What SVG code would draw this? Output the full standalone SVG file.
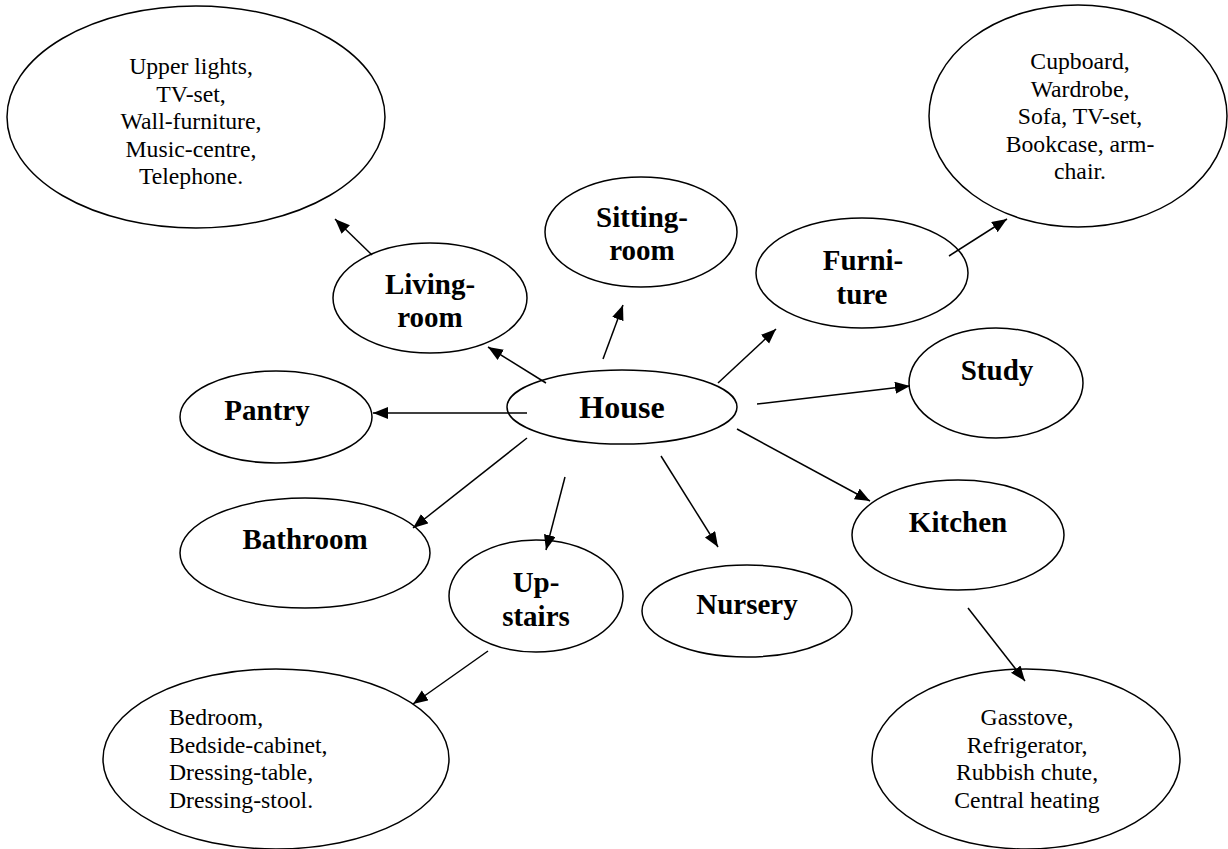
<svg xmlns="http://www.w3.org/2000/svg" width="1228" height="849" viewBox="0 0 1228 849">
<style>
.n{fill:#fff;stroke:#000;stroke-width:1.5}
.b{font-family:"Liberation Serif","Times New Roman",serif;font-weight:bold;font-size:29px;text-anchor:middle;fill:#000}
.h{font-size:32px}
.t{font-family:"Liberation Serif","Times New Roman",serif;font-size:23.7px;text-anchor:middle;fill:#000}
.l{text-anchor:start}
.c line{stroke:#000;stroke-width:1.5;marker-end:url(#a)}
</style>
<defs>
<marker id="a" markerUnits="userSpaceOnUse" markerWidth="16" markerHeight="13" refX="15" refY="6" orient="auto">
<path d="M0,0 L15,6 L0,12 z" fill="#000"/>
</marker>
</defs>
<rect width="1228" height="849" fill="#fff"/>
<g id="living-items">
<ellipse class="n" cx="196" cy="117" rx="189" ry="111"/>
<text class="t" x="191" y="74">Upper lights,</text>
<text class="t" x="191" y="101.5">TV-set,</text>
<text class="t" x="191" y="129">Wall-furniture,</text>
<text class="t" x="191" y="156.5">Music-centre,</text>
<text class="t" x="191" y="184">Telephone.</text>
</g>
<g id="furniture-items">
<ellipse class="n" cx="1078" cy="116" rx="149" ry="111"/>
<text class="t" x="1080" y="69">Cupboard,</text>
<text class="t" x="1080" y="96.5">Wardrobe,</text>
<text class="t" x="1080" y="124">Sofa, TV-set,</text>
<text class="t" x="1080" y="151.5">Bookcase, arm-</text>
<text class="t" x="1080" y="179">chair.</text>
</g>
<g id="sitting-room">
<ellipse class="n" cx="641" cy="232" rx="96" ry="55"/>
<text class="b" x="642" y="227">Sitting-</text>
<text class="b" x="642" y="260">room</text>
</g>
<g id="living-room">
<ellipse class="n" cx="430" cy="298" rx="97" ry="55"/>
<text class="b" x="430" y="294">Living-</text>
<text class="b" x="430" y="327">room</text>
</g>
<g id="furniture">
<ellipse class="n" cx="862" cy="273" rx="106" ry="55"/>
<text class="b" x="863" y="270">Furni-</text>
<text class="b" x="862" y="304">ture</text>
</g>
<g id="house">
<ellipse class="n" cx="622" cy="407" rx="115" ry="37"/>
<text class="b h" x="622" y="418">House</text>
</g>
<g id="pantry">
<ellipse class="n" cx="276" cy="417" rx="96" ry="46"/>
<text class="b" x="267" y="420">Pantry</text>
</g>
<g id="study">
<ellipse class="n" cx="996" cy="383" rx="87" ry="55"/>
<text class="b" x="997" y="380">Study</text>
</g>
<g id="bathroom">
<ellipse class="n" cx="305" cy="553" rx="125" ry="55"/>
<text class="b" x="305" y="549">Bathroom</text>
</g>
<g id="kitchen">
<ellipse class="n" cx="958" cy="535" rx="106" ry="55"/>
<text class="b" x="958" y="532">Kitchen</text>
</g>
<g id="upstairs">
<ellipse class="n" cx="536" cy="596" rx="87" ry="56"/>
<text class="b" x="536" y="592">Up-</text>
<text class="b" x="536" y="626">stairs</text>
</g>
<g id="nursery">
<ellipse class="n" cx="747" cy="611" rx="105" ry="46"/>
<text class="b" x="747" y="614">Nursery</text>
</g>
<g id="upstairs-items">
<ellipse class="n" cx="276" cy="759" rx="173" ry="90"/>
<text class="t l" x="169" y="725">Bedroom,</text>
<text class="t l" x="169" y="752.5">Bedside-cabinet,</text>
<text class="t l" x="169" y="780">Dressing-table,</text>
<text class="t l" x="169" y="807.5">Dressing-stool.</text>
</g>
<g id="kitchen-items">
<ellipse class="n" cx="1026" cy="759" rx="154" ry="90"/>
<text class="t" x="1027" y="725">Gasstove,</text>
<text class="t" x="1027" y="752.5">Refrigerator,</text>
<text class="t" x="1027" y="780">Rubbish chute,</text>
<text class="t" x="1027" y="807.5">Central heating</text>
</g>
<g id="connectors" class="c">
<line x1="546" y1="383" x2="488" y2="347"/>
<line x1="603" y1="359" x2="623" y2="305"/>
<line x1="527" y1="413" x2="373" y2="413"/>
<line x1="527" y1="438" x2="413" y2="528"/>
<line x1="565" y1="477" x2="546" y2="550"/>
<line x1="661" y1="456" x2="718" y2="547"/>
<line x1="737" y1="429" x2="870" y2="501"/>
<line x1="757" y1="404" x2="910" y2="386"/>
<line x1="718" y1="383" x2="776" y2="329"/>
<line x1="372" y1="255" x2="335" y2="219"/>
<line x1="949" y1="256" x2="1007" y2="219"/>
<line x1="488" y1="651" x2="413" y2="704"/>
<line x1="968" y1="608" x2="1025" y2="681"/>
</g>
</svg>
